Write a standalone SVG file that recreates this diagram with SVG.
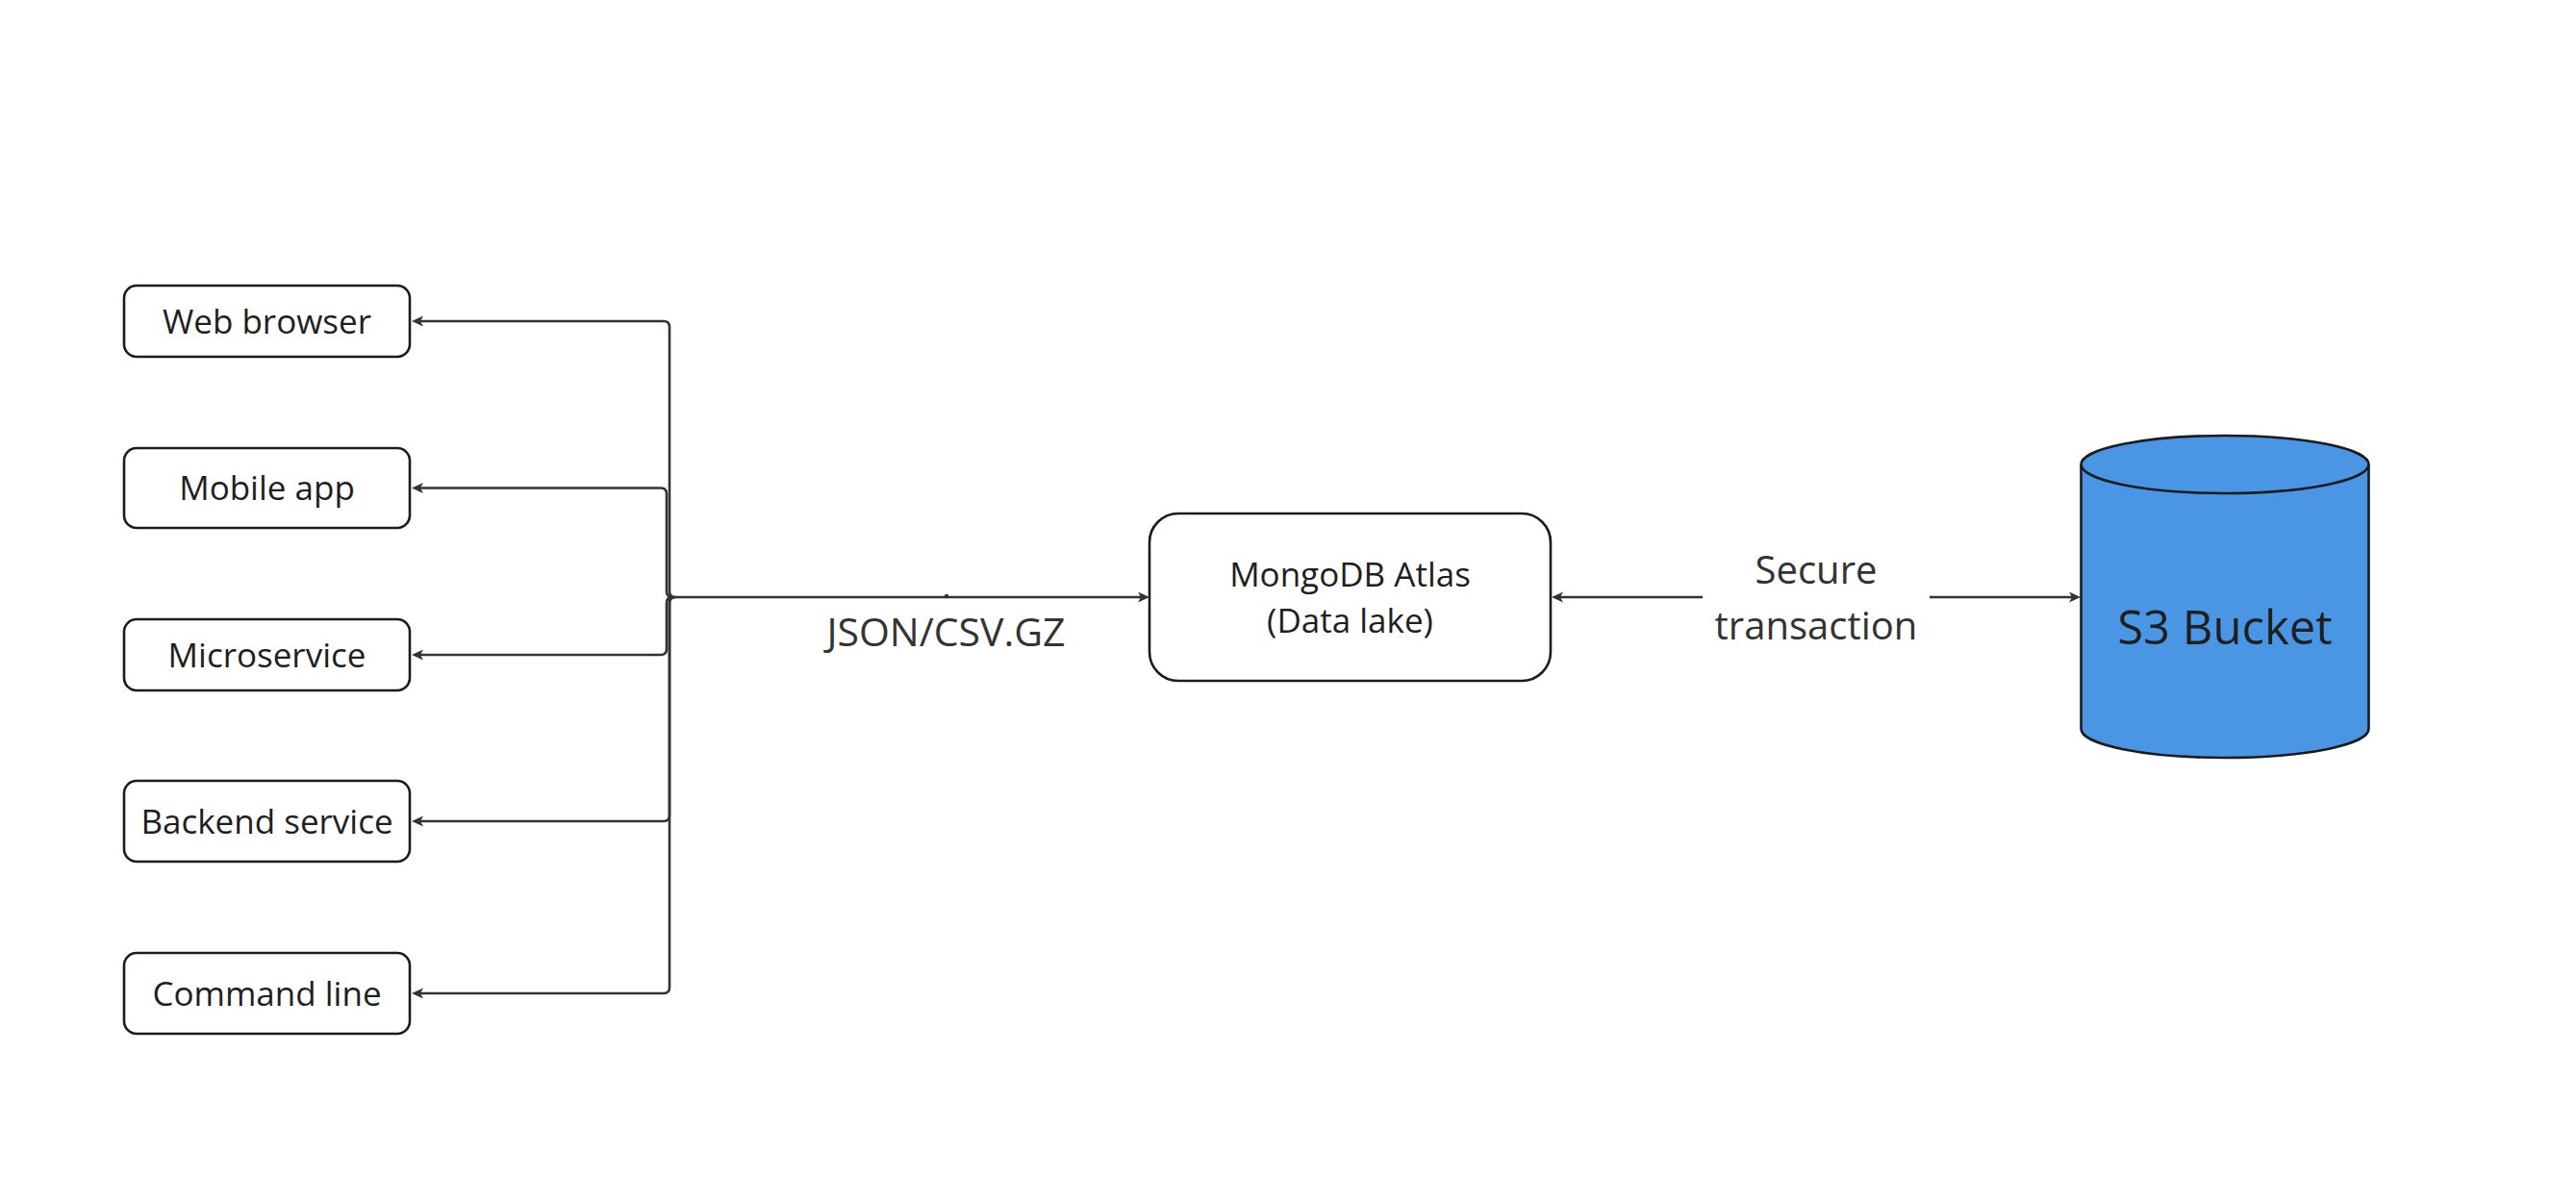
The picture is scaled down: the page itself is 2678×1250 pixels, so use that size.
<svg xmlns="http://www.w3.org/2000/svg" width="2678" height="1250" viewBox="0 0 2678 1250">
<style>
.box{fill:#ffffff;stroke:#1c1c1c;stroke-width:2.6}
.lbl{font-family:"Open Sans","Noto Sans","Liberation Sans",sans-serif;fill:#1f1f1f;text-anchor:middle}
.edge{fill:none;stroke:#333333;stroke-width:2.6}
.elbl{font-family:"Open Sans","Noto Sans","Liberation Sans",sans-serif;fill:#333333;text-anchor:middle}
</style>
<defs>
<marker id="arr" markerUnits="userSpaceOnUse" markerWidth="14" markerHeight="12" refX="4" refY="5.5" orient="auto">
<path d="M0,0 L12,5.5 L0,11 L3,5.5 z" fill="#333333"/>
</marker>
</defs>
<rect width="2678" height="1250" fill="#ffffff"/>
<g id="connectors">
<path class="edge" d="M702,621 Q696,621 696,615 L696,340 Q696,334 690,334 L436,334" marker-end="url(#arr)"/>
<path class="edge" d="M699,621 Q693,621 693,615 L693,513.5 Q693,507.5 687,507.5 L436,507.5" marker-end="url(#arr)"/>
<path class="edge" d="M699,621 Q693,621 693,627 L693,675 Q693,681 687,681 L436,681" marker-end="url(#arr)"/>
<path class="edge" d="M702,621 Q696,621 696,627 L696,848 Q696,854 690,854 L436,854" marker-end="url(#arr)"/>
<path class="edge" d="M702,621 Q696,621 696,627 L696,1027 Q696,1033 690,1033 L436,1033" marker-end="url(#arr)"/>
<path class="edge" d="M700,621 L1187,621" marker-end="url(#arr)"/>
<circle cx="984" cy="620" r="2.2" fill="#333333"/>
<text class="elbl" x="983.5" y="671.5" font-size="41">JSON/CSV.GZ</text>
<path class="edge" d="M1770,621 L1621,621" marker-end="url(#arr)"/>
<path class="edge" d="M2006,621 L2155,621" marker-end="url(#arr)"/>
<text class="elbl" x="1888" y="607" font-size="40">Secure</text>
<text class="elbl" x="1888" y="665" font-size="40">transaction</text>
</g>
<g id="web-browser">
<rect class="box" x="129" y="297" width="297" height="74" rx="13"/>
<text class="lbl" x="277.5" y="346.5" font-size="35">Web browser</text>
</g>
<g id="mobile-app">
<rect class="box" x="129" y="466" width="297" height="83" rx="13"/>
<text class="lbl" x="277.5" y="520" font-size="35">Mobile app</text>
</g>
<g id="microservice">
<rect class="box" x="129" y="644" width="297" height="74" rx="13"/>
<text class="lbl" x="277.5" y="693.5" font-size="35">Microservice</text>
</g>
<g id="backend-service">
<rect class="box" x="129" y="812" width="297" height="84" rx="13"/>
<text class="lbl" x="277.5" y="866.5" font-size="35">Backend service</text>
</g>
<g id="command-line">
<rect class="box" x="129" y="991" width="297" height="84" rx="13"/>
<text class="lbl" x="277.5" y="1045.5" font-size="35">Command line</text>
</g>
<g id="mongodb-atlas">
<rect class="box" x="1195" y="534" width="417" height="174" rx="30"/>
<text class="lbl" x="1403.5" y="610" font-size="35">MongoDB Atlas</text>
<text class="lbl" x="1403.5" y="658" font-size="35">(Data lake)</text>
</g>
<g id="s3-bucket">
<path d="M2163.5,483 L2163.5,758 A149.5,30 0 0 0 2462.5,758 L2462.5,483 A149.5,30 0 0 0 2163.5,483 Z" fill="#4b96e4" stroke="#1c1c1c" stroke-width="2.6"/>
<path d="M2163.5,483 A149.5,30 0 0 0 2462.5,483" fill="none" stroke="#1c1c1c" stroke-width="2.6"/>
<text class="lbl" x="2313" y="670" font-size="49">S3 Bucket</text>
</g>
</svg>
